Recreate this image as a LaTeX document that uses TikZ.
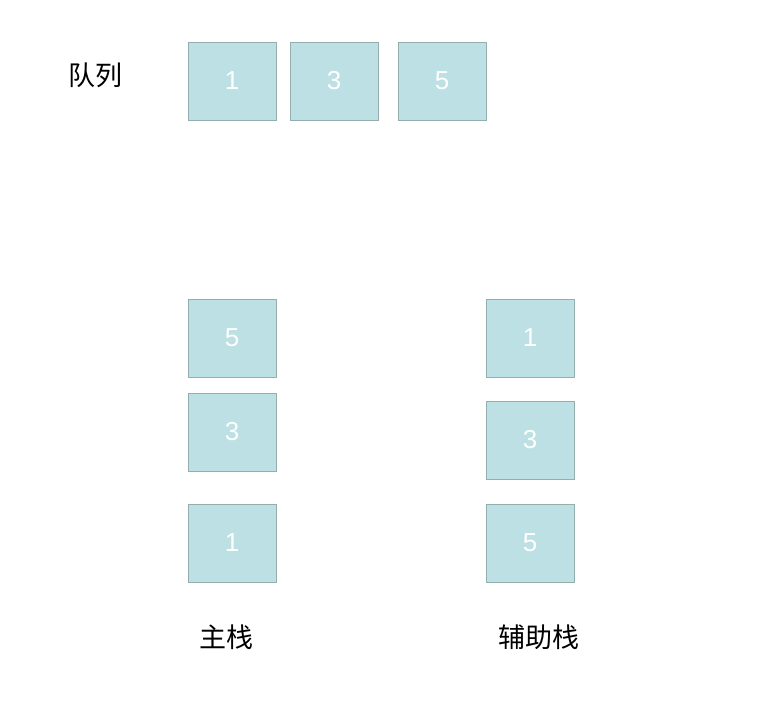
\documentclass[tikz,border=0pt]{standalone}
\usepackage{fontspec}
\setmainfont{Liberation Sans}
\newfontfamily\cjk{Noto Sans CJK SC}[FakeStretch=1]
\definecolor{cellfill}{HTML}{BCE0E3}
\definecolor{cellline}{HTML}{94AEAE}
\tikzset{
  cell/.style={draw=cellline, fill=cellfill, line width=0.8pt,
    minimum width=88pt, minimum height=78pt, inner sep=0pt,
    text=white, font=\fontsize{26}{26}\selectfont},
  caption/.style={font=\cjk\fontsize{27}{27}\selectfont}
}
\begin{document}
\begin{tikzpicture}[x=1pt,y=-1pt]
\useasboundingbox (0,0) rectangle (757,706);

% Queue
\node[caption] (qlabel) at ( 95, 75) {队列};
\node[cell] (q1) at (232, 81) {1};
\node[cell] (q3) at (334, 81) {3};
\node[cell] (q5) at (442, 81) {5};

% Main stack
\node[cell] (m5) at (232,338) {5};
\node[cell] (m3) at (232,432) {3};
\node[cell] (m1) at (232,543) {1};
\node[caption] (mlabel) at (226,637) {主栈};

% Aux stack
\node[cell] (a1) at (530,338) {1};
\node[cell] (a3) at (530,440) {3};
\node[cell] (a5) at (530,543) {5};
\node[caption] (alabel) at (539,637) {辅助栈};

\end{tikzpicture}
\end{document}
